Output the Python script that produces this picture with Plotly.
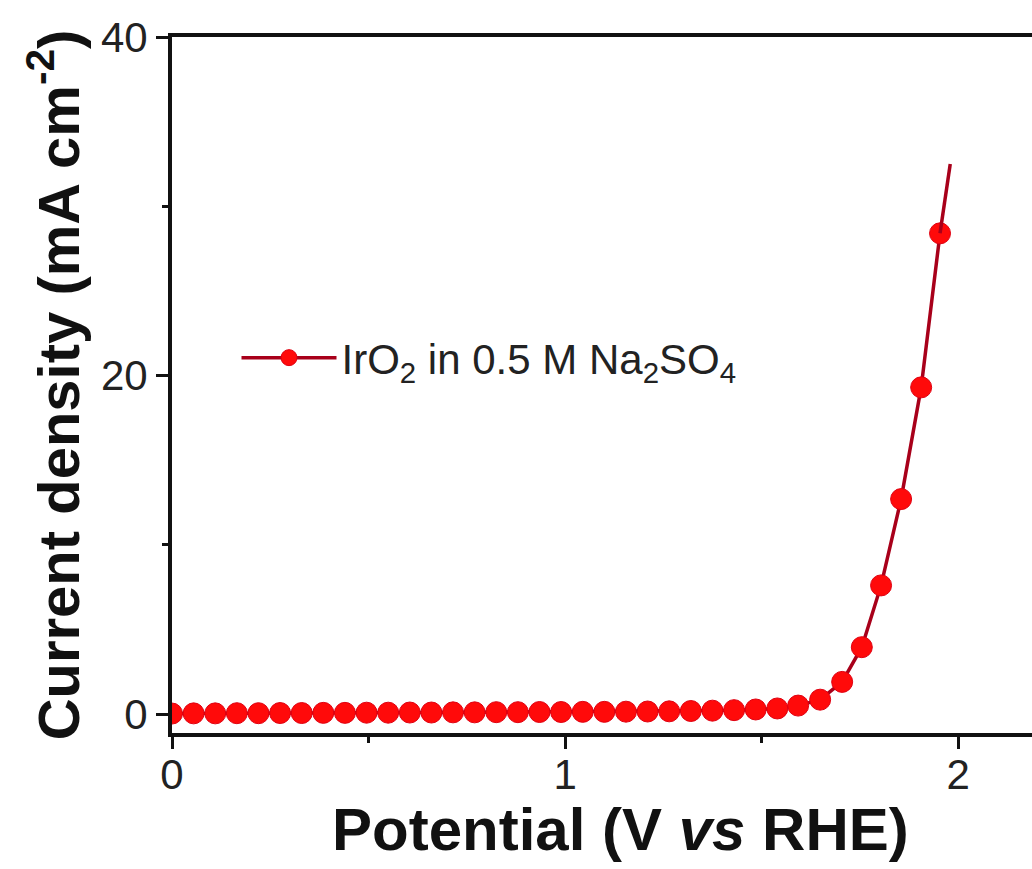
import plotly.graph_objects as go

# Data
potential = [0.00, 0.055, 0.11, 0.165, 0.22, 0.275, 0.33, 0.385, 0.44, 0.495,
             0.55, 0.605, 0.66, 0.715, 0.77, 0.825, 0.88, 0.935, 0.99, 1.045,
             1.10, 1.155, 1.21, 1.265, 1.32, 1.375, 1.43, 1.485, 1.54, 1.593,
             1.649, 1.705, 1.755, 1.804, 1.855, 1.906, 1.954]
current = [0.03, 0.04, 0.04, 0.05, 0.05, 0.06, 0.06, 0.07, 0.07, 0.08,
           0.08, 0.09, 0.09, 0.10, 0.10, 0.11, 0.11, 0.12, 0.12, 0.13,
           0.13, 0.14, 0.15, 0.16, 0.18, 0.20, 0.23, 0.27, 0.33, 0.50,
           0.85, 1.90, 3.95, 7.60, 12.70, 19.30, 28.40]
tail_potential = [1.954, 1.980]
tail_current = [28.40, 32.50]

x_ticks = [0, 1, 2]
y_ticks = [0, 20, 40]
x_title = "<b>Potential (V <i>vs</i> RHE)</b>"
y_title = "<b>Current density (mA cm<sup>-2</sup>)</b>"

FONT = "Arial, Liberation Sans, sans-serif"
LINE_COLOR = "#A8001A"
MARKER_COLOR = "#FF0A0A"

fig = go.Figure()
fig.add_trace(go.Scatter(
    x=potential, y=current, mode="lines+markers",
    name="IrO<sub>2</sub> in 0.5 M Na<sub>2</sub>SO<sub>4</sub>",
    line=dict(color=LINE_COLOR, width=3.5),
    marker=dict(color=MARKER_COLOR, size=21, line=dict(color="#E00010", width=1)),
))
fig.add_trace(go.Scatter(
    x=tail_potential, y=tail_current, mode="lines", showlegend=False,
    line=dict(color=LINE_COLOR, width=3.5),
))

fig.update_layout(
    width=1032, height=869,
    margin=dict(l=172, r=0, t=37, b=136),
    paper_bgcolor="white", plot_bgcolor="white",
    font=dict(family=FONT, color="#111111", size=42),
    showlegend=True,
    legend=dict(x=0.075, y=0.539, xanchor="left", yanchor="middle",
                bgcolor="rgba(0,0,0,0)", borderwidth=0, itemwidth=95,
                font=dict(size=42, family=FONT, color="#222222")),
    xaxis=dict(
        range=[0, 2.188], tickvals=x_ticks, ticktext=[str(v) for v in x_ticks],
        showline=True, linecolor="#111111", linewidth=4, mirror=True,
        ticks="outside", ticklen=12, tickwidth=3, tickcolor="#111111",
        ticklabelstandoff=-10,
        showgrid=False, zeroline=False,
        tickfont=dict(size=42, family=FONT, color="#222222"),
        minor=dict(tickvals=[0.5, 1.5], ticks="outside", ticklen=6, tickwidth=3, tickcolor="#111111"),
    ),
    yaxis=dict(
        range=[-1.12, 40], tickvals=y_ticks, ticktext=[str(v) for v in y_ticks],
        showline=True, linecolor="#111111", linewidth=4,
        ticks="outside", ticklen=12, tickwidth=3, tickcolor="#111111",
        showgrid=False, zeroline=False,
        tickfont=dict(size=42, family=FONT, color="#222222"),
        minor=dict(tickvals=[10, 30], ticks="outside", ticklen=6, tickwidth=3, tickcolor="#111111"),
        title=dict(text=y_title, standoff=4,
                   font=dict(size=58, family=FONT, color="#111111")),
    ),
    annotations=[dict(
        text=x_title, xref="paper", yref="paper", x=0.522, y=-0.138,
        xanchor="center", yanchor="middle", showarrow=False,
        font=dict(size=60, family=FONT, color="#111111"),
    )],
)

fig.write_html("out.html")
